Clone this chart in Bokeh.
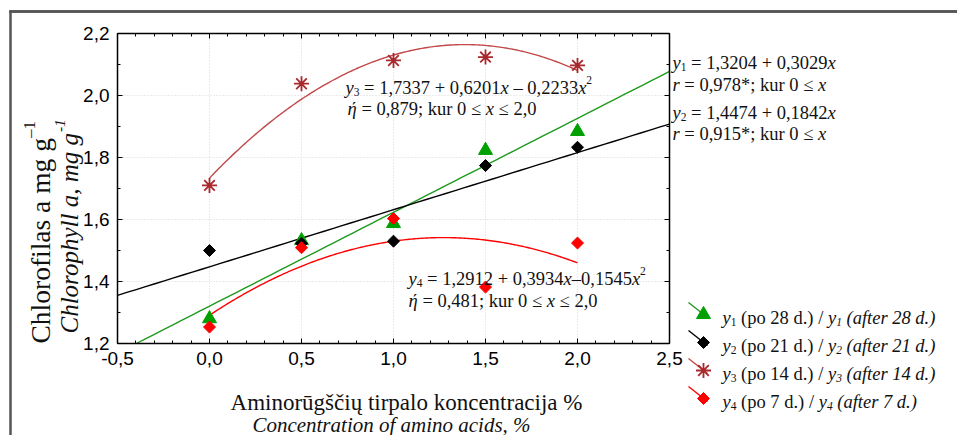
import numpy as np
from math import pi
from bokeh.plotting import figure
from bokeh.models import Range1d, FixedTicker, LinearAxis, Label, Grid
from bokeh.embed import file_html
from bokeh.resources import INLINE

# --- data: chlorophyll a (mg g^-1) vs amino-acid solution concentration (%) ---
conc = [0.0, 0.5, 1.0, 1.5, 2.0]
chl_28d = [1.280, 1.532, 1.587, 1.823, 1.884]
chl_21d = [1.500, 1.523, 1.530, 1.774, 1.833]
chl_14d = [1.710, 2.038, 2.113, 2.124, 2.097]
chl_7d = [1.253, 1.509, 1.603, 1.382, 1.524]

# regression coefficients (c0, c1, c2 ...) as printed on the chart
coef_28d = [1.3204, 0.3029]
coef_21d = [1.4474, 0.1842]
coef_14d = [1.7337, 0.6201, -0.2233]
coef_7d = [1.2912, 0.3934, -0.1545]

x_ticks = [-0.5, 0.0, 0.5, 1.0, 1.5, 2.0, 2.5]
x_tick_labels = ["-0,5", "0,0", "0,5", "1,0", "1,5", "2,0", "2,5"]
y_ticks = [1.2, 1.4, 1.6, 1.8, 2.0, 2.2]
y_tick_labels = ["1,2", "1,4", "1,6", "1,8", "2,0", "2,2"]

GREEN_L = "#1f9a1f"
GREEN_M = "#00a000"
BROWN = "#a8282c"
BROWN_L = "#c2484a"
RED = "#ff0000"
INK = "#111111"
FRAME = "#555555"
SERIF = "Liberation Serif"
SANS = "Liberation Sans"
NB = "\u00a0"

# page geometry (pixels): the plot box sits inside a full-page canvas
W, H = 957, 435
FL, FR, FT, FB = 117, 669, 33, 343
X0, X1, Y0, Y1 = -0.5, 2.5, 1.2, 2.2


def dx(px):
    return X0 + (px - FL) * (X1 - X0) / (FR - FL)


def dy(py):
    return Y1 - (py - FT) * (Y1 - Y0) / (FB - FT)


p = figure(width=W, height=H, x_range=Range1d(dx(0), dx(W)), y_range=Range1d(dy(H), dy(0)),
           x_axis_type=None, y_axis_type=None, title=None,
           output_backend="svg", toolbar_location=None, min_border=0,
           min_border_left=0, min_border_right=0, min_border_top=0, min_border_bottom=0,
           background_fill_color="white", border_fill_color="white")
p.outline_line_color = None

x_minor = [round(-0.5 + 0.1 * i, 2) for i in range(31)]
y_minor = [round(1.2 + 0.1 * i, 2) for i in range(11)]
xt = FixedTicker(ticks=x_ticks, minor_ticks=x_minor)
yt = FixedTicker(ticks=y_ticks, minor_ticks=y_minor)


def make_axis(ticker, ticks, labels, loc, bounds, flip=False):
    ax = LinearAxis(ticker=ticker, fixed_location=loc, bounds=bounds)
    ax.axis_line_color = "black"
    ax.axis_line_width = 1.5
    # flip: ticks drawn on the "out" side, which faces into the plot box
    ax.major_tick_in, ax.major_tick_out = (0, 5) if flip else (5, 0)
    ax.minor_tick_in, ax.minor_tick_out = (0, 3) if flip else (3, 0)
    ax.major_tick_line_color = "black"
    ax.minor_tick_line_color = "black"
    ax.major_label_text_font = SANS
    ax.major_label_text_font_size = "19px"
    ax.major_label_text_color = "black"
    ax.major_label_standoff = 8
    if labels is None:
        ax.major_label_overrides = {t: "" for t in ticks}
        ax.major_label_text_font_size = "0px"
        ax.major_label_standoff = 0
    else:
        ax.major_label_overrides = {t: s for t, s in zip(ticks, labels)}
    return ax


p.add_layout(make_axis(xt, x_ticks, x_tick_labels, Y0, (X0, X1)), "below")
p.add_layout(make_axis(yt, y_ticks, y_tick_labels, X0, (Y0, Y1)), "left")
p.add_layout(make_axis(xt, x_ticks, None, Y1, (X0, X1), flip=True), "below")
p.add_layout(make_axis(yt, y_ticks, None, X1, (Y0, Y1)), "right")


def edge_line(side, loc, bounds):
    # plain rule (no ticks, no labels) used for the outer box edges
    ax = LinearAxis(ticker=FixedTicker(ticks=[]), fixed_location=loc, bounds=bounds)
    ax.axis_line_color = FRAME
    ax.axis_line_width = 2.5
    ax.major_tick_line_color = None
    ax.minor_tick_line_color = None
    ax.major_label_text_font_size = "0px"
    ax.major_label_standoff = 0
    p.add_layout(ax, side)


edge_line("below", dy(11), (dx(9), dx(W + 5)))
edge_line("left", dx(10), (dy(H + 5), dy(9.8)))
p.quad(left=[dx(9)], right=[dx(W + 5)], top=[dy(9.8)], bottom=[dy(12.2)],
       fill_color=FRAME, line_color=None)

for dim, tk, bnd, cross in ((0, xt, (X0, X1), (Y0, Y1)), (1, yt, (Y0, Y1), (X0, X1))):
    p.add_layout(Grid(dimension=dim, ticker=tk, bounds=bnd, cross_bounds=cross,
                      grid_line_color="#d6d6d6", grid_line_dash="1 2", grid_line_width=1))


def poly(coef, xs):
    return sum(c * xs ** k for k, c in enumerate(coef))


# straight fits run across the whole axis, starting where they enter the y range
x28 = np.linspace(max(X0, (Y0 - coef_28d[0]) / coef_28d[1]), X1, 60)
x21 = np.linspace(max(X0, (Y0 - coef_21d[0]) / coef_21d[1]), X1, 60)
xq = np.linspace(0.0, 2.0, 200)

p.line(x28, poly(coef_28d, x28), line_color=GREEN_L, line_width=1.4)
p.line(x21, poly(coef_21d, x21), line_color="black", line_width=1.4)
p.line(xq, poly(coef_14d, xq), line_color=BROWN_L, line_width=1.4)
p.line(xq, poly(coef_7d, xq), line_color=RED, line_width=1.4)

# observed values
p.scatter(conc, chl_28d, marker="triangle", size=14, fill_color=GREEN_M, line_color=GREEN_M)
p.scatter(conc, chl_21d, marker="square", angle=pi / 4, size=8.5, fill_color="black", line_color="black")
p.scatter(conc, chl_14d, marker="asterisk", size=15, line_color=BROWN, line_width=1.8)
p.scatter(conc, chl_7d, marker="square", angle=pi / 4, size=8.5, fill_color=RED, line_color=RED)

# --- rich text built from runs (Times metrics) ---
REG = {' ': 250, NB: 250, '%': 833, '(': 333, ')': 333, '*': 500, '+': 564, ',': 250,
       '-': 333, '.': 250, '/': 278, ';': 278, '=': 564, '≤': 549, '–': 500, 'A': 722,
       'C': 667, 'a': 444, 'c': 444, 'd': 500, 'e': 444, 'f': 333, 'g': 500, 'h': 500,
       'i': 278, 'j': 278, 'k': 500, 'l': 278, 'm': 778, 'n': 500, 'o': 500, 'p': 500,
       'r': 333, 's': 389, 't': 278, 'u': 500, 'x': 500, 'y': 500, 'ū': 500, 'š': 389,
       'č': 444, 'ų': 500, 'ή': 500}
ITA = {' ': 250, NB: 250, '%': 833, '(': 333, ')': 333, ',': 250, '-': 333, '.': 250,
       '/': 278, 'C': 667, 'a': 500, 'c': 444, 'd': 500, 'e': 444, 'f': 278, 'g': 500,
       'h': 500, 'i': 278, 'l': 278, 'm': 722, 'n': 500, 'o': 500, 'p': 500, 'r': 389,
       's': 389, 't': 278, 'u': 500, 'x': 444, 'y': 444, 'ή': 500}


def text_em(s, italic):
    tbl = ITA if italic else REG
    return sum(tbl.get(c, 500) for c in s) / 1000.0


def rich(px, py, runs, size, rotated=False, color=INK):
    adv = 0.0
    for text, italic, pos in runs:
        text = text.replace(" ", NB)
        s = size * (0.62 if pos else 1.0)
        shift = {"": 0.0, "sub": 0.22 * size, "sup": -0.40 * size}[pos]
        if rotated:
            x, y = px + shift, py - adv
        else:
            x, y = px + adv, py + shift
        p.add_layout(Label(x=dx(x), y=dy(y), text=text, text_font=SERIF,
                           text_font_style="italic" if italic else "normal",
                           text_font_size=f"{s:.1f}px", text_baseline="alphabetic",
                           text_align="left", angle=pi / 2 if rotated else 0.0,
                           text_color=color))
        adv += text_em(text, italic) * s


EQ = 18.5
# quadratic fits
rich(345, 87, [("y", True, ""), ("3", False, "sub"), (" = 1,7337 + 0,6201", False, ""),
               ("x", True, ""), (" – 0,2233", False, ""), ("x", True, ""), ("2", False, "sup")], EQ)
rich(347, 108, [("ή", True, ""), (" = 0,879; kur 0 ≤ ", False, ""), ("x", True, ""),
                (" ≤ 2,0", False, "")], EQ)
rich(408, 278, [("y", True, ""), ("4", False, "sub"), (" = 1,2912 + 0,3934", False, ""),
                ("x", True, ""), ("–0,1545", False, ""), ("x", True, ""), ("2", False, "sup")], EQ)
rich(408, 300, [("ή", True, ""), (" = 0,481; kur 0 ≤ ", False, ""), ("x", True, ""),
                (" ≤ 2,0", False, "")], EQ)

# linear fits, right of the plot box
rich(672, 62, [("y", True, ""), ("1", False, "sub"), (" = 1,3204 + 0,3029", False, ""),
               ("x", True, "")], EQ)
rich(672, 84, [("r", True, ""), (" = 0,978*; kur 0 ≤ ", False, ""), ("x", True, "")], EQ)
rich(672, 112, [("y", True, ""), ("2", False, "sub"), (" = 1,4474 + 0,1842", False, ""),
                ("x", True, "")], EQ)
rich(672, 133, [("r", True, ""), (" = 0,915*; kur 0 ≤ ", False, ""), ("x", True, "")], EQ)

# legend
legend_marker = ["triangle", "diamond", "star", "diamond"]
legend_line = [GREEN_L, "black", BROWN_L, RED]
legend_fill = [GREEN_M, "black", BROWN, RED]
legend_idx = ["1", "2", "3", "4"]
legend_days = ["28", "21", "14", "7"]
for i in range(4):
    base = 317 + 28 * i
    cx, cy = 703, base - 3
    p.segment(x0=[dx(688)], y0=[dy(cy - 12)], x1=[dx(cx + 4)], y1=[dy(cy + 3)],
              line_color=legend_line[i], line_width=1.4)
    kind = legend_marker[i]
    if kind == "triangle":
        p.scatter([dx(cx)], [dy(cy)], marker="triangle", size=14,
                  fill_color=legend_fill[i], line_color=legend_fill[i])
    elif kind == "diamond":
        p.scatter([dx(cx)], [dy(cy)], marker="square", angle=pi / 4, size=8.5,
                  fill_color=legend_fill[i], line_color=legend_fill[i])
    else:
        p.scatter([dx(cx)], [dy(cy)], marker="asterisk", size=15,
                  line_color=legend_fill[i], line_width=1.8)
    d = legend_days[i]
    rich(722, base, [("y", True, ""), (legend_idx[i], False, "sub"),
                     (f" (po {d} d.) / ", False, ""), ("y", True, ""),
                     (legend_idx[i], True, "sub"), (f" (after {d} d.)", True, "")], EQ)

# axis titles
rich(40, 343, [("Chlorofilas a mg g", False, ""), ("–1", False, "sup")], 27.5, rotated=True)
rich(69, 333, [("Chlorophyll a, mg g", True, ""), ("-1", True, "sup")], 25, rotated=True)
p.add_layout(Label(x=dx(406), y=dy(402), text="Aminorūgščių tirpalo koncentracija %",
                   text_font=SERIF, text_font_size="23px", text_align="center",
                   text_baseline="alphabetic", text_color=INK))
p.add_layout(Label(x=dx(391), y=dy(424), text="Concentration of amino acids, %",
                   text_font=SERIF, text_font_style="italic", text_font_size="21px",
                   text_align="center", text_baseline="alphabetic", text_color=INK))

open("out.html", "w").write(file_html(p, INLINE))
